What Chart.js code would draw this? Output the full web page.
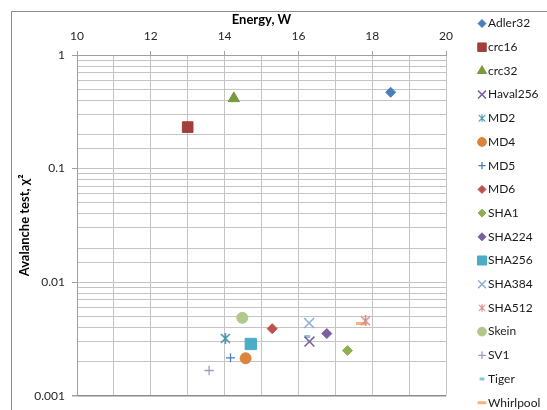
<!DOCTYPE html>
<html>
<head>
<meta charset="utf-8">
<script src="https://cdn.jsdelivr.net/npm/chart.js@4/dist/chart.umd.min.js"></script>
<style>
  body { margin: 0; background: #fff; }
  #wrap { width: 547px; height: 410px; }
</style>
</head>
<body>
<div id="wrap"><canvas id="avalancheChart" width="547" height="410"></canvas></div>
<script>
// Data
const hashNames = ['Adler32', 'crc16', 'crc32', 'Haval256', 'MD2', 'MD4', 'MD5', 'MD6',
    'SHA1', 'SHA224', 'SHA256', 'SHA384', 'SHA512', 'Skein', 'SV1', 'Tiger', 'Whirlpool'];
const energyW = [18.5, 13.0, 14.25, 16.3, 14.02, 14.57, 14.16, 15.29,
    17.33, 16.77, 14.71, 16.29, 17.82, 14.48, 13.58, 16.24, 17.71];
const chiSquare = [0.47, 0.232, 0.415, 0.0030, 0.0032, 0.00214, 0.00216, 0.0039,
    0.0025, 0.00353, 0.00286, 0.00437, 0.00457, 0.00486, 0.00167, 0.00333, 0.00434];
const xTicks = [10, 12, 14, 16, 18, 20];
const yTicks = [0.001, 0.01, 0.1, 1];

// Excel style "star" marker: an X with a vertical bar through it
function excelStar(color, size, lw) {
    const c = document.createElement('canvas');
    c.width = size;
    c.height = size;
    const g = c.getContext('2d');
    g.strokeStyle = color;
    g.lineWidth = lw;
    g.beginPath();
    g.moveTo(1, 1); g.lineTo(size - 1, size - 1);
    g.moveTo(size - 1, 1); g.lineTo(1, size - 1);
    g.moveTo(size / 2, 0); g.lineTo(size / 2, size);
    g.stroke();
    return c;
}

// Marker looks (Excel defaults)
const markerStyles = [
    { style: 'rectRot', color: '#4A7EBB', r: 5 },
    { style: 'rect', color: '#A33E3B', r: 7.5 },
    { style: 'triangle', color: '#779A3E', r: 6.5 },
    { style: 'crossRot', color: '#7A5F9E', r: 7, line: 1.5 },
    { style: excelStar('#3E93AB', 11, 1.5), color: '#3E93AB', r: 5.5, line: 1.5 },
    { style: 'circle', color: '#DB843D', r: 5.5 },
    { style: 'cross', color: '#4A7EBB', r: 4.5, line: 1.3 },
    { style: 'rectRot', color: '#C0504D', r: 5 },
    { style: 'rectRot', color: '#8FB04E', r: 5 },
    { style: 'rectRot', color: '#7A5F9E', r: 5 },
    { style: 'rect', color: '#4BACC6', r: 8 },
    { style: 'crossRot', color: '#8EADD8', r: 7, line: 1.5 },
    { style: excelStar('#D98C8A', 11, 1.5), color: '#D98C8A', r: 5.5, line: 1.5 },
    { style: 'circle', color: '#AFC98A', r: 5.5 },
    { style: 'cross', color: '#A895C4', r: 4.7, line: 1.3 },
    { style: 'line', color: '#8CC5D8', r: 3, line: 3 },
    { style: 'line', color: '#F9B47E', r: 5.5, line: 3 }
];

const FONT = 'Lato';

const datasets = hashNames.map((name, i) => {
    const m = markerStyles[i];
    const stroked = m.line !== undefined;
    return {
        label: name,
        data: [{ x: energyW[i], y: chiSquare[i] }],
        pointStyle: m.style,
        pointRadius: m.r,
        pointHoverRadius: m.r,
        backgroundColor: m.color,
        borderColor: m.color,
        borderWidth: stroked ? m.line : 1
    };
});

const isMajorY = (v) => yTicks.some(t => Math.abs(t - v) < t * 1e-6);

// Outer chart frame (only top and left edges are visible)
const frame = {
    id: 'frame',
    beforeDraw(chart) {
        const ctx = chart.ctx;
        ctx.save();
        ctx.strokeStyle = '#8C8C8C';
        ctx.lineWidth = 1;
        ctx.beginPath();
        ctx.moveTo(11.5, 410);
        ctx.lineTo(11.5, 11.5);
        ctx.lineTo(547, 11.5);
        ctx.stroke();
        ctx.restore();
    }
};

// Legend drawn on the right, one row per series
const sideLegend = {
    id: 'sideLegend',
    afterDraw(chart) {
        const ctx = chart.ctx;
        ctx.save();
        ctx.font = '12px ' + FONT;
        ctx.textBaseline = 'middle';
        chart.data.datasets.forEach((ds, i) => {
            const y = 23.5 + i * 23.7;
            ctx.fillStyle = ds.backgroundColor;
            ctx.strokeStyle = ds.borderColor;
            ctx.lineWidth = ds.borderWidth;
            if (typeof ds.pointStyle === 'object') {
                ctx.drawImage(ds.pointStyle, 478, y - 4, 8, 8);
            } else {
                Chart.helpers.drawPoint(ctx, {
                    pointStyle: ds.pointStyle,
                    radius: ds.pointRadius * 0.8,
                    borderWidth: ds.borderWidth,
                    rotation: 0
                }, 482, y);
            }
            ctx.fillStyle = '#1a1a1a';
            ctx.fillText(ds.label, 488, y);
        });
        ctx.restore();
    }
};

new Chart(document.getElementById('avalancheChart'), {
    type: 'scatter',
    data: { datasets },
    plugins: [frame, sideLegend],
    options: {
        responsive: false,
        animation: false,
        layout: { padding: { left: 0, top: 0, right: 101, bottom: 8 } },
        plugins: {
            legend: { display: false },
            tooltip: { enabled: false }
        },
        scales: {
            x: {
                type: 'linear',
                position: 'top',
                min: 10,
                max: 20,
                afterFit: (scale) => { scale.height = 55; },
                ticks: {
                    stepSize: 1,
                    autoSkip: false,
                    maxRotation: 0,
                    padding: 8,
                    color: '#262626',
                    font: { family: FONT, size: 12 },
                    callback: (v) => xTicks.includes(v) ? String(v) : ''
                },
                grid: {
                    color: '#C4C4C4',
                    lineWidth: 1,
                    tickLength: 4,
                    tickColor: (c) => (c.tick && xTicks.includes(c.tick.value)) ? '#A0A0A0' : 'rgba(0,0,0,0)'
                },
                border: { color: '#A0A0A0' },
                title: {
                    display: true,
                    text: 'Energy, W',
                    color: '#000',
                    padding: { top: 12, bottom: 0 },
                    font: { family: FONT, size: 13, weight: 'bold' }
                }
            },
            y: {
                type: 'logarithmic',
                min: 0.001,
                max: 1,
                afterFit: (scale) => { scale.width = 77; },
                ticks: {
                    autoSkip: false,
                    padding: 7,
                    color: '#262626',
                    font: { family: FONT, size: 12 },
                    callback: (v) => {
                        const hit = yTicks.find(t => Math.abs(t - v) < t * 1e-6);
                        return hit !== undefined ? String(hit) : '';
                    }
                },
                grid: {
                    color: (c) => (c.tick && Math.abs(c.tick.value - 0.001) < 1e-9) ? '#8C8C8C' : '#C4C4C4',
                    lineWidth: (c) => (c.tick && Math.abs(c.tick.value - 0.001) < 1e-9) ? 1.5 : 1,
                    tickLength: 5,
                    tickColor: (c) => (c.tick && isMajorY(c.tick.value)) ? '#A0A0A0' : 'rgba(0,0,0,0)'
                },
                border: { color: '#A0A0A0' },
                title: {
                    display: true,
                    text: 'Avalanche test, χ²',
                    color: '#000',
                    padding: { top: 17, bottom: 0 },
                    font: { family: FONT, size: 13, weight: 'bold' }
                }
            }
        }
    }
});
</script>
</body>
</html>
